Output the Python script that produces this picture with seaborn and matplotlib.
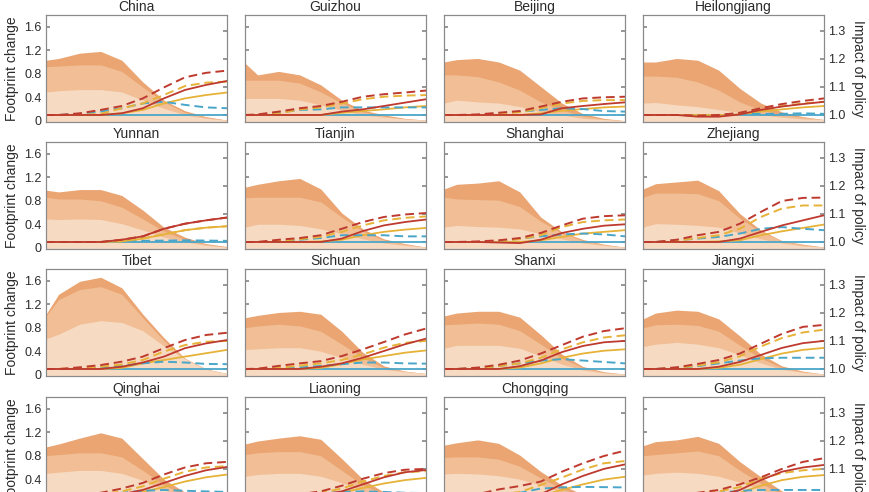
import matplotlib
matplotlib.use("Agg")
import matplotlib.pyplot as plt
import seaborn as sns
from matplotlib.ticker import FuncFormatter

sns.set_theme(style="ticks")
plt.rcParams['font.family'] = ['Liberation Sans', 'DejaVu Sans']

# -----------------------------
# DATA
# -----------------------------
regions = ["China", "Guizhou", "Beijing", "Heilongjiang",
           "Yunnan", "Tianjin", "Shanghai", "Zhejiang",
           "Tibet", "Sichuan", "Shanxi", "Jiangxi",
           "Qinghai", "Liaoning", "Chongqing", "Gansu"]
years = [2017, 2020, 2025, 2030, 2035, 2040, 2045, 2050, 2055, 2060]

# footprint change bands (left axis)
band_outer = [
    [1.03, 1.06, 1.15, 1.18, 1.03, 0.66, 0.35, 0.17, 0.07, 0.01],
    [0.98, 0.78, 0.84, 0.78, 0.61, 0.35, 0.18, 0.10, 0.04, 0.01],
    [1.00, 1.04, 1.06, 1.00, 0.86, 0.58, 0.30, 0.12, 0.04, 0.00],
    [1.00, 1.00, 1.06, 1.03, 0.86, 0.55, 0.30, 0.15, 0.07, 0.02],
    [0.98, 0.95, 0.99, 0.99, 0.89, 0.64, 0.35, 0.18, 0.07, 0.02],
    [1.03, 1.08, 1.14, 1.18, 1.00, 0.59, 0.32, 0.15, 0.07, 0.01],
    [1.00, 1.08, 1.10, 1.14, 0.95, 0.52, 0.27, 0.14, 0.06, 0.01],
    [1.00, 1.09, 1.12, 1.15, 0.97, 0.58, 0.30, 0.12, 0.06, 0.01],
    [1.03, 1.37, 1.59, 1.66, 1.48, 1.03, 0.63, 0.28, 0.10, 0.02],
    [0.97, 1.01, 1.06, 1.08, 1.03, 0.74, 0.38, 0.15, 0.06, 0.02],
    [1.00, 1.05, 1.08, 1.08, 0.98, 0.68, 0.35, 0.14, 0.05, 0.01],
    [0.95, 1.05, 1.10, 1.08, 0.95, 0.66, 0.35, 0.15, 0.06, 0.01],
    [0.95, 1.00, 1.10, 1.19, 1.10, 0.75, 0.40, 0.18, 0.07, 0.02],
    [1.00, 1.05, 1.10, 1.14, 1.08, 0.75, 0.40, 0.18, 0.07, 0.02],
    [0.98, 1.02, 1.07, 1.01, 0.81, 0.53, 0.30, 0.14, 0.06, 0.02],
    [0.97, 1.04, 1.07, 1.13, 1.01, 0.70, 0.44, 0.20, 0.07, 0.02],
]
band_middle = [
    [0.92, 0.93, 0.95, 0.95, 0.84, 0.57, 0.32, 0.14, 0.06, 0.01],
    [0.69, 0.69, 0.69, 0.64, 0.49, 0.30, 0.15, 0.08, 0.03, 0.01],
    [0.78, 0.78, 0.75, 0.66, 0.52, 0.32, 0.18, 0.08, 0.03, 0.00],
    [0.76, 0.76, 0.74, 0.66, 0.52, 0.32, 0.18, 0.10, 0.06, 0.02],
    [0.86, 0.83, 0.83, 0.80, 0.69, 0.49, 0.28, 0.14, 0.06, 0.01],
    [0.85, 0.86, 0.86, 0.86, 0.78, 0.52, 0.28, 0.13, 0.06, 0.01],
    [0.86, 0.83, 0.82, 0.81, 0.70, 0.45, 0.25, 0.12, 0.05, 0.01],
    [0.86, 0.93, 0.93, 0.92, 0.80, 0.50, 0.27, 0.12, 0.05, 0.01],
    [1.00, 1.28, 1.45, 1.50, 1.37, 0.97, 0.58, 0.27, 0.09, 0.02],
    [0.80, 0.83, 0.86, 0.83, 0.74, 0.52, 0.29, 0.12, 0.06, 0.02],
    [0.85, 0.86, 0.88, 0.86, 0.75, 0.52, 0.28, 0.12, 0.04, 0.01],
    [0.80, 0.85, 0.86, 0.84, 0.74, 0.50, 0.28, 0.12, 0.05, 0.01],
    [0.80, 0.82, 0.85, 0.85, 0.78, 0.55, 0.30, 0.14, 0.05, 0.01],
    [0.82, 0.85, 0.87, 0.87, 0.80, 0.55, 0.30, 0.14, 0.05, 0.01],
    [0.77, 0.78, 0.78, 0.74, 0.62, 0.42, 0.24, 0.11, 0.05, 0.02],
    [0.80, 0.82, 0.85, 0.88, 0.80, 0.55, 0.33, 0.15, 0.05, 0.02],
]
band_inner = [
    [0.49, 0.51, 0.53, 0.53, 0.49, 0.35, 0.21, 0.10, 0.04, 0.01],
    [0.38, 0.38, 0.38, 0.35, 0.27, 0.18, 0.10, 0.06, 0.03, 0.01],
    [0.30, 0.35, 0.32, 0.30, 0.24, 0.15, 0.10, 0.04, 0.02, 0.00],
    [0.30, 0.31, 0.27, 0.24, 0.19, 0.14, 0.10, 0.06, 0.03, 0.02],
    [0.49, 0.48, 0.49, 0.48, 0.41, 0.30, 0.18, 0.10, 0.04, 0.01],
    [0.35, 0.40, 0.40, 0.38, 0.32, 0.24, 0.15, 0.08, 0.04, 0.01],
    [0.35, 0.38, 0.36, 0.35, 0.32, 0.24, 0.15, 0.08, 0.04, 0.01],
    [0.35, 0.41, 0.40, 0.38, 0.35, 0.25, 0.15, 0.08, 0.03, 0.01],
    [0.61, 0.69, 0.86, 0.92, 0.89, 0.75, 0.49, 0.27, 0.09, 0.02],
    [0.43, 0.44, 0.46, 0.46, 0.40, 0.29, 0.18, 0.09, 0.05, 0.02],
    [0.45, 0.50, 0.50, 0.50, 0.45, 0.32, 0.18, 0.08, 0.03, 0.01],
    [0.48, 0.52, 0.55, 0.52, 0.46, 0.34, 0.20, 0.09, 0.04, 0.01],
    [0.50, 0.52, 0.55, 0.55, 0.50, 0.38, 0.22, 0.10, 0.04, 0.01],
    [0.45, 0.48, 0.50, 0.50, 0.45, 0.34, 0.20, 0.10, 0.04, 0.01],
    [0.49, 0.50, 0.49, 0.46, 0.40, 0.30, 0.18, 0.09, 0.04, 0.02],
    [0.47, 0.50, 0.52, 0.50, 0.45, 0.35, 0.22, 0.10, 0.04, 0.02],
]

# impact of policy (right axis)
red_solid = [
    [1, 1, 1, 1, 1.006, 1.024, 1.059, 1.089, 1.107, 1.121],
    [1, 1, 1, 1, 1.000, 1.012, 1.020, 1.032, 1.044, 1.056],
    [1, 1, 1, 1, 1.000, 1.002, 1.024, 1.032, 1.039, 1.045],
    [1, 1, 1, 0.994, 0.994, 1.002, 1.018, 1.030, 1.039, 1.047],
    [1, 1, 1, 1, 1.008, 1.020, 1.047, 1.065, 1.077, 1.087],
    [1, 1, 1, 1, 1.000, 1.012, 1.039, 1.059, 1.071, 1.080],
    [1, 1, 1, 0.998, 0.996, 1.008, 1.032, 1.047, 1.058, 1.063],
    [1, 1, 1, 1, 1.000, 1.012, 1.036, 1.059, 1.077, 1.095],
    [1, 1, 1, 1, 1.008, 1.023, 1.044, 1.074, 1.091, 1.103],
    [1, 1, 1, 1, 1.008, 1.020, 1.040, 1.064, 1.088, 1.108],
    [1, 1, 1, 1, 1.010, 1.030, 1.060, 1.082, 1.095, 1.100],
    [1, 1, 1, 1, 1.008, 1.025, 1.050, 1.075, 1.092, 1.100],
    [1, 1, 1, 1, 1.010, 1.025, 1.050, 1.075, 1.095, 1.107],
    [1, 1, 1, 1, 1.008, 1.020, 1.045, 1.070, 1.088, 1.096],
    [1, 1, 1, 1, 1.000, 1.010, 1.045, 1.075, 1.100, 1.116],
    [1, 1, 1, 1, 1.005, 1.025, 1.060, 1.090, 1.105, 1.114],
]
red_dashed = [
    [1, 1, 1.006, 1.018, 1.032, 1.059, 1.098, 1.134, 1.150, 1.158],
    [1, 1.002, 1.012, 1.024, 1.032, 1.047, 1.065, 1.074, 1.080, 1.087],
    [1, 1, 1.002, 1.008, 1.014, 1.030, 1.047, 1.059, 1.063, 1.065],
    [1, 1, 1, 0.998, 1.000, 1.008, 1.024, 1.039, 1.050, 1.059],
    [1, 1, 1, 1, 1.008, 1.020, 1.047, 1.065, 1.077, 1.087],
    [1, 1, 1.008, 1.014, 1.024, 1.047, 1.071, 1.089, 1.098, 1.103],
    [1, 1, 1.002, 1.006, 1.014, 1.032, 1.059, 1.083, 1.092, 1.095],
    [1, 1, 1.008, 1.024, 1.036, 1.065, 1.107, 1.146, 1.157, 1.158],
    [1, 1, 1.006, 1.014, 1.026, 1.044, 1.074, 1.103, 1.121, 1.129],
    [1, 1.001, 1.011, 1.020, 1.028, 1.046, 1.070, 1.096, 1.123, 1.144],
    [1, 1, 1.005, 1.015, 1.030, 1.055, 1.085, 1.115, 1.135, 1.145],
    [1, 1, 1.006, 1.018, 1.032, 1.055, 1.090, 1.125, 1.150, 1.157],
    [1, 1, 1.005, 1.015, 1.030, 1.050, 1.080, 1.105, 1.120, 1.125],
    [1, 1, 1.003, 1.010, 1.020, 1.040, 1.065, 1.085, 1.097, 1.100],
    [1, 1, 1.010, 1.027, 1.039, 1.055, 1.090, 1.120, 1.146, 1.165],
    [1, 1, 1.005, 1.015, 1.025, 1.045, 1.070, 1.100, 1.125, 1.138],
]
yellow_solid = [
    [1, 1, 1, 1, 1.006, 1.018, 1.041, 1.059, 1.071, 1.080],
    [1, 1, 1, 1, 1.000, 1.008, 1.014, 1.020, 1.027, 1.032],
    [1, 1, 1, 1, 1.000, 1.006, 1.015, 1.021, 1.027, 1.030],
    [1, 1, 1, 1, 1.000, 1.002, 1.012, 1.020, 1.027, 1.032],
    [1, 1, 1, 1, 1.002, 1.012, 1.027, 1.042, 1.051, 1.056],
    [1, 1, 1, 1, 1.002, 1.008, 1.024, 1.036, 1.044, 1.050],
    [1, 1, 1, 1, 1.000, 1.006, 1.018, 1.030, 1.036, 1.042],
    [1, 1, 1, 1, 1.002, 1.006, 1.024, 1.038, 1.050, 1.062],
    [1, 1, 1, 1, 1.004, 1.020, 1.032, 1.044, 1.056, 1.068],
    [1, 1, 1, 1, 1.004, 1.017, 1.034, 1.046, 1.058, 1.066],
    [1, 1, 1, 1, 1.005, 1.020, 1.040, 1.055, 1.065, 1.070],
    [1, 1, 1, 1, 1.004, 1.015, 1.035, 1.055, 1.068, 1.075],
    [1, 1, 1, 1, 1.005, 1.018, 1.035, 1.055, 1.070, 1.080],
    [1, 1, 1, 1, 1.004, 1.015, 1.032, 1.048, 1.060, 1.068],
    [1, 1, 1, 1, 1.000, 1.005, 1.025, 1.045, 1.062, 1.072],
    [1, 1, 1, 1, 1.003, 1.015, 1.040, 1.060, 1.072, 1.078],
]
yellow_dashed = [
    [1, 1, 1, 1.004, 1.024, 1.041, 1.071, 1.103, 1.115, 1.119],
    [1, 1, 1.005, 1.020, 1.027, 1.041, 1.056, 1.065, 1.069, 1.071],
    [1, 1, 1, 1.004, 1.010, 1.024, 1.041, 1.050, 1.053, 1.053],
    [1, 1, 1, 1, 1.000, 1.004, 1.018, 1.032, 1.041, 1.047],
    [1, 1, 1, 1, 1.002, 1.012, 1.027, 1.042, 1.051, 1.056],
    [1, 1, 1.004, 1.010, 1.018, 1.036, 1.059, 1.077, 1.086, 1.091],
    [1, 1, 1, 1.004, 1.010, 1.024, 1.053, 1.071, 1.077, 1.080],
    [1, 1, 1.004, 1.014, 1.024, 1.047, 1.089, 1.119, 1.130, 1.130],
    [1, 1, 1.002, 1.008, 1.016, 1.032, 1.062, 1.085, 1.097, 1.100],
    [1, 1, 1.004, 1.012, 1.020, 1.032, 1.052, 1.076, 1.093, 1.100],
    [1, 1, 1.003, 1.010, 1.020, 1.040, 1.070, 1.095, 1.112, 1.120],
    [1, 1, 1.004, 1.012, 1.024, 1.045, 1.080, 1.110, 1.130, 1.140],
    [1, 1, 1.003, 1.010, 1.020, 1.038, 1.065, 1.090, 1.105, 1.110],
    [1, 1, 1.002, 1.008, 1.015, 1.030, 1.055, 1.075, 1.088, 1.092],
    [1, 1, 1, 1.008, 1.018, 1.043, 1.069, 1.098, 1.120, 1.128],
    [1, 1, 1.003, 1.010, 1.020, 1.035, 1.065, 1.085, 1.095, 1.100],
]
blue_dashed = [
    [1, 1, 1.004, 1.012, 1.024, 1.041, 1.047, 1.036, 1.027, 1.024],
    [1, 1, 1.008, 1.018, 1.020, 1.027, 1.027, 1.027, 1.027, 1.027],
    [1, 1, 1, 1.006, 1.012, 1.018, 1.024, 1.021, 1.014, 1.012],
    [1, 1, 1, 1, 1.000, 1.004, 1.004, 1.004, 1.006, 1.004],
    [1, 1, 1, 1, 1.002, 1.004, 1.005, 1.006, 1.005, 1.004],
    [1, 1, 1.002, 1.008, 1.014, 1.024, 1.024, 1.024, 1.020, 1.020],
    [1, 1, 1, 1.004, 1.012, 1.020, 1.027, 1.030, 1.027, 1.020],
    [1, 1, 1.006, 1.012, 1.018, 1.030, 1.047, 1.053, 1.047, 1.042],
    [1, 1, 1, 1.006, 1.011, 1.020, 1.026, 1.023, 1.018, 1.017],
    [1, 1, 1.002, 1.005, 1.011, 1.017, 1.023, 1.023, 1.020, 1.019],
    [1, 1, 1.003, 1.010, 1.020, 1.030, 1.035, 1.030, 1.025, 1.020],
    [1, 1, 1.004, 1.010, 1.020, 1.030, 1.038, 1.040, 1.040, 1.040],
    [1, 1, 1.003, 1.008, 1.015, 1.022, 1.025, 1.022, 1.020, 1.018],
    [1, 1, 1.002, 1.006, 1.012, 1.018, 1.020, 1.018, 1.015, 1.014],
    [1, 1, 1, 1.005, 1.015, 1.030, 1.034, 1.036, 1.035, 1.034],
    [1, 1, 1.003, 1.008, 1.015, 1.022, 1.025, 1.025, 1.025, 1.025],
]
blue_solid = [[1, 1, 1, 1, 1, 1, 1, 1, 1, 1] for _ in regions]

# -----------------------------
# STYLE
# -----------------------------
c_outer, c_middle, c_inner = "#EAA572", "#F1BE95", "#F7DAC2"
c_red, c_yellow, c_blue = "#BE3A2E", "#E6B238", "#4AA6C9"
spine_col = "#8a8a8a"
text_col = "#2b2b2b"

W, H = 870, 492
col_left = [46, 245, 444, 643]
row_top = [15, 142, 269, 397]
ax_w, ax_h = 181, 107

fig = plt.figure(figsize=(8.7, 4.92), dpi=100)

for i, name in enumerate(regions):
    r, c = divmod(i, 4)
    ax = fig.add_axes([col_left[c] / W, 1 - (row_top[r] + ax_h) / H, ax_w / W, ax_h / H])

    ax.fill_between(years, -0.1, band_outer[i], color=c_outer, lw=0)
    ax.fill_between(years, -0.1, band_middle[i], color=c_middle, lw=0)
    ax.fill_between(years, -0.1, band_inner[i], color=c_inner, lw=0)
    ax.set_xlim(2017, 2060)
    ax.set_ylim(-0.022, 1.8)
    ax.set_yticks([0, 0.4, 0.8, 1.2, 1.6])
    ax.yaxis.set_major_formatter(FuncFormatter(lambda v, p: "0" if v == 0 else f"{v:.1f}"))
    ax.set_xticks([2020, 2030, 2040, 2050])
    ax.tick_params(axis="x", direction="in", length=3, color=spine_col, labelbottom=False)
    ax.tick_params(axis="y", direction="in", length=3, color=spine_col,
                   labelsize=9, labelcolor=text_col, labelleft=(c == 0), pad=3)
    ax.set_title(name, fontsize=10, color=text_col, pad=3)
    if c == 0:
        ax.set_ylabel("Footprint change", fontsize=10, color=text_col, labelpad=4)

    ax2 = ax.twinx()
    sns.lineplot(x=years, y=blue_solid[i], ax=ax2, color=c_blue, lw=1.3)
    sns.lineplot(x=years, y=yellow_solid[i], ax=ax2, color=c_yellow, lw=1.3)
    sns.lineplot(x=years, y=blue_dashed[i], ax=ax2, color=c_blue, lw=1.4, dashes=(4.5, 2.5))
    sns.lineplot(x=years, y=yellow_dashed[i], ax=ax2, color=c_yellow, lw=1.4, dashes=(4.5, 2.5))
    sns.lineplot(x=years, y=red_dashed[i], ax=ax2, color=c_red, lw=1.4, dashes=(4.5, 2.5))
    sns.lineplot(x=years, y=red_solid[i], ax=ax2, color=c_red, lw=1.3)
    ax2.set_ylim(0.975, 1.356)
    ax2.set_yticks([1.0, 1.1, 1.2, 1.3])
    ax2.yaxis.set_major_formatter(FuncFormatter(lambda v, p: f"{v:.1f}"))
    ax2.tick_params(axis="y", direction="in", length=3, color=spine_col,
                    labelsize=9, labelcolor=text_col, labelright=(c == 3), pad=3)
    if c == 3:
        ax2.set_ylabel("Impact of policy", fontsize=10, color=text_col,
                       rotation=270, va="bottom", labelpad=4)

    for a in (ax, ax2):
        for s in a.spines.values():
            s.set_color(spine_col)
            s.set_linewidth(0.8)

fig.savefig("out.png", dpi=100)
